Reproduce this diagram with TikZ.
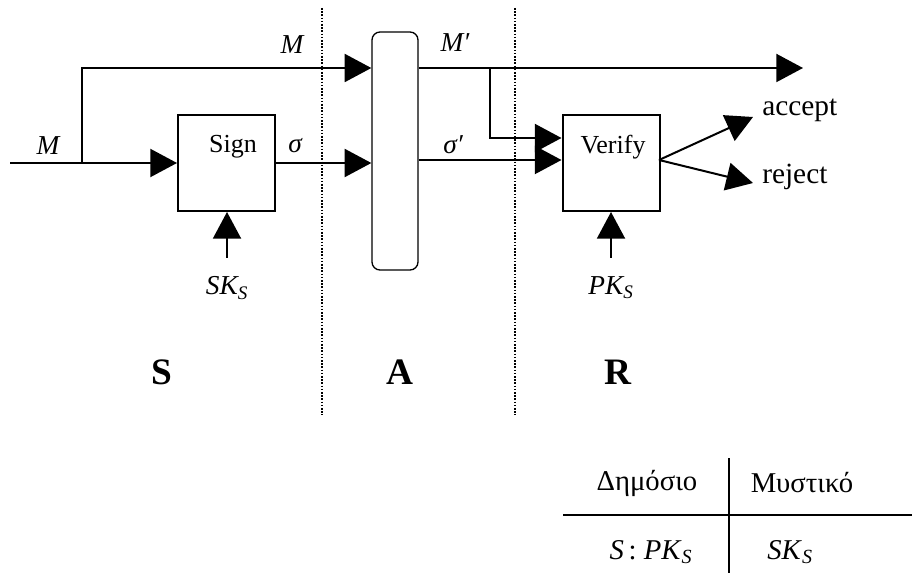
\documentclass[tikz,border=0pt]{standalone}
\usepackage{fontspec}
\setmainfont{Liberation Serif}
\usetikzlibrary{arrows.meta}
\begin{document}
\begin{tikzpicture}[x=0.75pt,y=-0.75pt,
  wire/.style={line width=1.5pt},
  arr/.style={wire,-{Triangle[length=20pt,width=21pt]}},
  blockbox/.style={draw,line width=1.5pt,minimum width=72.75pt,minimum height=72pt,inner sep=0pt},
  pillbox/.style={draw,line width=1pt,rounded corners=6pt,minimum width=34.5pt,minimum height=178.5pt,inner sep=0pt},
  sep/.style={line width=1.8pt,dash pattern=on 1.2pt off 1.2pt},
  lbl/.style={font=\fontsize{20.5}{24}\selectfont\itshape,inner sep=0pt},
  boxtxt/.style={font=\fontsize{19.5}{22}\selectfont,inner sep=0pt},
  outtxt/.style={font=\fontsize{22}{24}\selectfont,inner sep=0pt,anchor=west},
  party/.style={font=\fontsize{28}{30}\selectfont\bfseries,inner sep=0pt},
  tabtxt/.style={font=\fontsize{21.5}{24}\selectfont,inner sep=0pt}]
\useasboundingbox (0,0) rectangle (912,573);
% separators
\coordinate (d1t) at (322,8); \coordinate (d1b) at (322,415);
\coordinate (d2t) at (515,8); \coordinate (d2b) at (515,415);
\draw[sep] (d1t) -- (d1b);
\draw[sep] (d2t) -- (d2b);
% blocks
\node[blockbox] (sign) at (226.5,163) {};
\node[boxtxt] (signt) at (233,147) {Sign};
\node[pillbox] (pill) at (395,151) {};
\node[blockbox] (verify) at (611,163) {};
\node[boxtxt] (verifyt) at (613,147) {Verify};
% input
\coordinate (in) at (10,163);
\coordinate (split) at (82,163);
\coordinate (topl) at (82,68);
\draw[wire] (in) -- (split);
\draw[arr] (split) -- (sign.west);
\draw[arr] (split) -- (topl) -- (pill.west |- topl);
\node[lbl] (Min) at (48,146) {M};
\node[lbl] (Mtop) at (292,45) {M};
% sigma
\draw[arr] (sign.east) -- (pill.west |- sign.east);
\node[lbl] (sig) at (295,146) {σ};
% SK
\node[lbl] (sk) at (227,288) {SK\textsubscript{S}};
\coordinate (skt) at (227,258);
\draw[arr] (skt) -- (sign.south -| skt);
% M'
\coordinate (mend) at (803,68);
\draw[arr] (pill.east |- topl) -- (mend);
\node[lbl] (Mp) at (455,43) {M′};
\coordinate (br) at (490,68);
\coordinate (brl) at (490,138);
\draw[arr] (br) -- (brl) -- (verify.west |- brl);
% sigma'
\coordinate (sl) at (418,160);
\draw[arr] (pill.east |- sl) -- (verify.west |- sl);
\node[lbl] (sigp) at (453,145) {σ′};
% outputs
\coordinate (vo) at (659,160);
\coordinate (acc) at (753,117);
\coordinate (rej) at (753,183);
\draw[arr] (vo) -- (acc);
\draw[arr] (vo) -- (rej);
\node[outtxt] (acct) at (762,110) {accept};
\node[outtxt] (rejt) at (762,177) {reject};
% PK
\node[lbl] (pk) at (611,288) {PK\textsubscript{S}};
\coordinate (pkt) at (611,258);
\draw[arr] (pkt) -- (verify.south -| pkt);
% parties
\node[party] (S) at (162,372) {S};
\node[party] (A) at (400,372) {A};
\node[party] (R) at (618,372) {R};
% table
\coordinate (tv1) at (729,458); \coordinate (tv2) at (729,573);
\coordinate (th1) at (563,515); \coordinate (th2) at (912,515);
\draw[line width=1.6pt] (tv1) -- (tv2);
\draw[line width=1.6pt] (th1) -- (th2);
\node[tabtxt] (pub) at (647,483) {Δημόσιο};
\node[tabtxt] (sec) at (802,483) {Μυστικό};
\node[tabtxt] (pubv) at (651,552) {\textit{S}\,: \textit{PK}\textsubscript{\textit{S}}};
\node[tabtxt] (secv) at (790,552) {\textit{SK}\textsubscript{\textit{S}}};
\end{tikzpicture}
\end{document}
